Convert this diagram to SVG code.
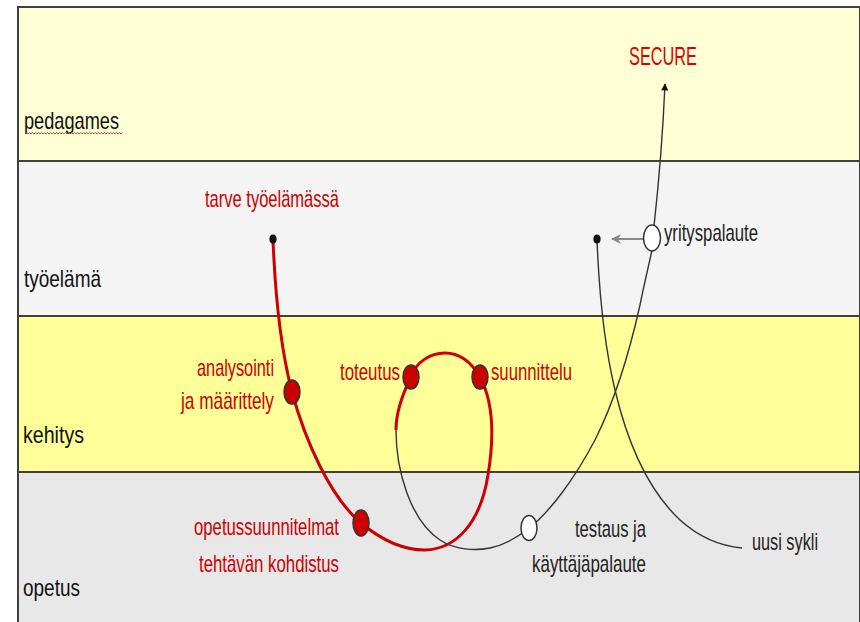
<svg xmlns="http://www.w3.org/2000/svg" width="860" height="622" viewBox="0 0 860 622">
<defs>
<style>
.lbl{font-family:"Liberation Sans",Arial,sans-serif;font-size:24px;fill:#111;}
.red{font-family:"Liberation Sans",Arial,sans-serif;font-size:24px;fill:#CC0000;}
.dk{font-family:"Liberation Sans",Arial,sans-serif;font-size:24px;fill:#222;}
.band{stroke:#404040;stroke-width:2;}
.rn{fill:#CC0000;stroke:#333;stroke-width:1.5;}
.wn{fill:#fff;stroke:#333;stroke-width:1.5;}
.rl{fill:none;stroke:#CC0000;stroke-width:3;}
.bl{fill:none;stroke:#333;stroke-width:1.4;}
</style>
<marker id="ah" viewBox="0 0 10 10" refX="9" refY="5" markerWidth="10" markerHeight="7" markerUnits="userSpaceOnUse" orient="auto">
<path d="M0,0 L10,5 L0,10 z" fill="#111"/>
</marker>
<marker id="ahg" viewBox="0 0 10 10" refX="9" refY="5" markerWidth="10" markerHeight="10" markerUnits="userSpaceOnUse" orient="auto">
<path d="M0,0 L10,5 L0,10 L3,5 z" fill="#888"/>
</marker>
</defs>
<rect width="860" height="622" fill="#fff"/>
<g id="bands">
<rect class="band" x="18" y="7" width="842" height="154" fill="#FFFFD5"/>
<rect class="band" x="18" y="161" width="842" height="155" fill="#F4F4F4"/>
<rect class="band" x="18" y="316" width="842" height="156" fill="#FFFF99"/>
<rect class="band" x="18" y="472" width="842" height="152" fill="#E8E8E8"/>
<text class="lbl" x="24" y="129" textLength="95" lengthAdjust="spacingAndGlyphs">pedagames</text>
<path d="M25,134 l1.5,-1.5 l1.5,1.5 l1.5,-1.5 l1.5,1.5 l1.5,-1.5 l1.5,1.5 l1.5,-1.5 l1.5,1.5 l1.5,-1.5 l1.5,1.5 l1.5,-1.5 l1.5,1.5 l1.5,-1.5 l1.5,1.5 l1.5,-1.5 l1.5,1.5 l1.5,-1.5 l1.5,1.5 l1.5,-1.5 l1.5,1.5 l1.5,-1.5 l1.5,1.5 l1.5,-1.5 l1.5,1.5 l1.5,-1.5 l1.5,1.5 l1.5,-1.5 l1.5,1.5 l1.5,-1.5 l1.5,1.5 l1.5,-1.5 l1.5,1.5 l1.5,-1.5 l1.5,1.5 l1.5,-1.5 l1.5,1.5 l1.5,-1.5 l1.5,1.5 l1.5,-1.5 l1.5,1.5 l1.5,-1.5 l1.5,1.5 l1.5,-1.5 l1.5,1.5 l1.5,-1.5 l1.5,1.5 l1.5,-1.5 l1.5,1.5 l1.5,-1.5 l1.5,1.5 l1.5,-1.5 l1.5,1.5 l1.5,-1.5 l1.5,1.5 l1.5,-1.5 l1.5,1.5 l1.5,-1.5 l1.5,1.5 l1.5,-1.5 l1.5,1.5 l1.5,-1.5 l1.5,1.5 l1.5,-1.5 l1.5,1.5 l1.5,-1.5" fill="none" stroke="#E03030" stroke-width="0.9"/>
<text class="lbl" x="24" y="287" textLength="77" lengthAdjust="spacingAndGlyphs">työelämä</text>
<text class="lbl" x="23" y="443" textLength="61" lengthAdjust="spacingAndGlyphs">kehitys</text>
<text class="lbl" x="23" y="596" textLength="57" lengthAdjust="spacingAndGlyphs">opetus</text>
</g>
<g id="connectors">
<path class="bl" d="M396,430 C396,470 410,520 440,540 C455,550 475,551 490,548 C505,545 518,537 529,528 C550,512 575,478 595,440 C615,400 630,350 640,305 C645,280 650,260 652,250"/>
<path class="bl" d="M654,226 C658,190 663,130 665,84" marker-end="url(#ah)"/>
<path class="bl" d="M597,240 C599,290 603,340 615,390 C628,445 648,490 680,520 C700,538 720,546 742,548"/>
<path d="M643,239 L612,239" fill="none" stroke="#888" stroke-width="2" marker-end="url(#ahg)"/>
<path class="rl" d="M273,240 C275,290 281,350 292,392 C305,440 330,497 361,523 C385,543 405,550 425,550 C455,549 480,525 488,475 C493,445 495,405 480,377 C470,360 458,353 445,353 C430,353 416,362 411,377 C402,395 396,412 396,430"/>
</g>
<g id="n-tarve">
<ellipse cx="273" cy="239" rx="3.6" ry="4.5" fill="#111"/>
<text class="red" x="205" y="207" textLength="134" lengthAdjust="spacingAndGlyphs">tarve työelämässä</text>
</g>
<g id="n-analysointi">
<ellipse class="rn" cx="292" cy="392" rx="8" ry="12"/>
<text class="red" x="197" y="376" textLength="77" lengthAdjust="spacingAndGlyphs">analysointi</text>
<text class="red" x="181" y="409" textLength="93" lengthAdjust="spacingAndGlyphs">ja määrittely</text>
</g>
<g id="n-toteutus">
<ellipse class="rn" cx="411" cy="377" rx="8" ry="12"/>
<text class="red" x="340" y="380" textLength="60" lengthAdjust="spacingAndGlyphs">toteutus</text>
</g>
<g id="n-suunnittelu">
<ellipse class="rn" cx="480" cy="377" rx="8" ry="12"/>
<text class="red" x="491" y="380" textLength="81" lengthAdjust="spacingAndGlyphs">suunnittelu</text>
</g>
<g id="n-opetussuunnitelmat">
<ellipse class="rn" cx="361" cy="523" rx="8" ry="13"/>
<text class="red" x="194" y="535" textLength="145" lengthAdjust="spacingAndGlyphs">opetussuunnitelmat</text>
<text class="red" x="199" y="572" textLength="140" lengthAdjust="spacingAndGlyphs">tehtävän kohdistus</text>
</g>
<g id="n-testaus">
<ellipse class="wn" cx="529" cy="528" rx="8" ry="12.5"/>
<text class="dk" x="575" y="537" textLength="71" lengthAdjust="spacingAndGlyphs">testaus ja</text>
<text class="dk" x="532" y="572" textLength="114" lengthAdjust="spacingAndGlyphs">käyttäjäpalaute</text>
</g>
<g id="n-yrityspalaute">
<ellipse class="wn" cx="652" cy="238" rx="8.5" ry="13"/>
<text class="dk" x="664" y="241" textLength="94" lengthAdjust="spacingAndGlyphs">yrityspalaute</text>
</g>
<g id="n-uusi">
<ellipse cx="597" cy="239" rx="3.6" ry="4.5" fill="#111"/>
<text class="dk" x="752" y="550" textLength="66" lengthAdjust="spacingAndGlyphs">uusi sykli</text>
</g>
<g id="n-secure">
<text x="629" y="65" textLength="68" lengthAdjust="spacingAndGlyphs" style="font-family:'Liberation Sans',Arial,sans-serif;font-size:25px;fill:#DD0000">SECURE</text>
</g>
</svg>
